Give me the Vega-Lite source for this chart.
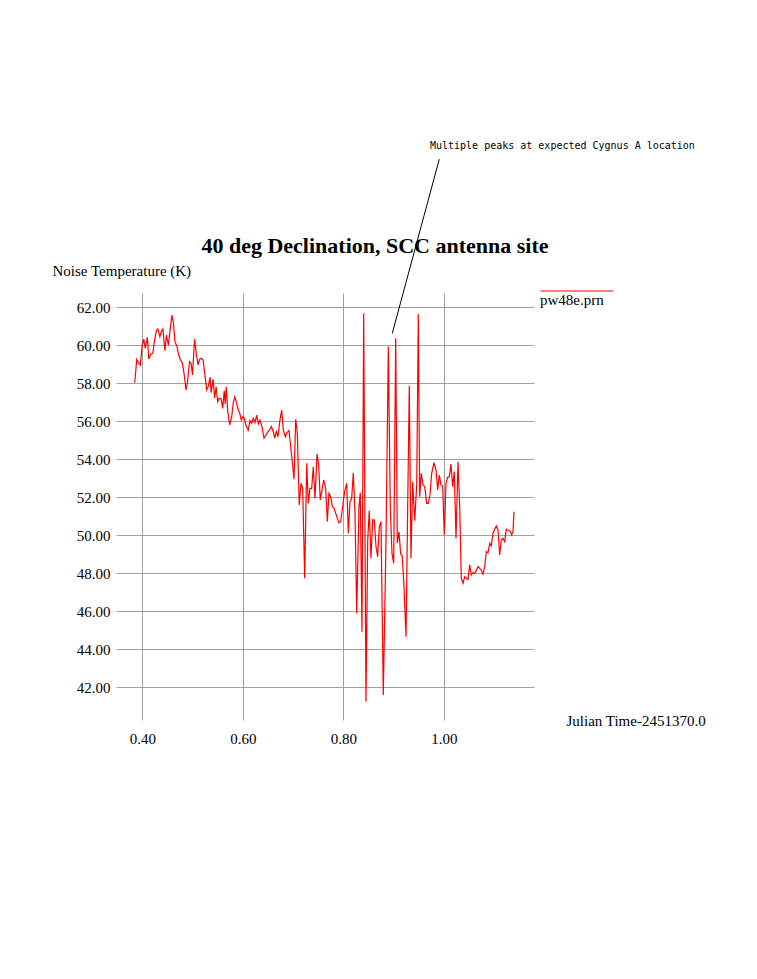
{
  "$schema": "https://vega.github.io/schema/vega-lite/v6.json",
  "width": 418,
  "height": 427,
  "autosize": {"type": "none"},
  "padding": {"left": 116, "top": 293, "right": 223, "bottom": 259},
  "background": "white",
  "title": {
    "text": "40 deg Declination, SCC antenna site",
    "font": "Liberation Serif",
    "fontSize": 22,
    "fontWeight": "bold",
    "color": "black",
    "anchor": "middle",
    "frame": "group",
    "baseline": "alphabetic",
    "offset": -134,
    "dx": 50
  },
  "config": {
    "view": {"stroke": null},
    "axis": {
      "gridColor": "#a0a0a0",
      "gridWidth": 1,
      "gridOpacity": 1,
      "domain": false,
      "ticks": false,
      "labelFont": "Liberation Serif",
      "labelFontSize": 15,
      "labelColor": "black",
      "titleFont": "Liberation Serif",
      "titleFontSize": 15,
      "titleFontWeight": "normal",
      "titleColor": "black"
    }
  },
  "layer": [
    {
      "data": {
        "values": [
          {"t": 0.385, "temp": 58.03, "file": "pw48e.prn"},
          {"t": 0.389, "temp": 59.26, "file": "pw48e.prn"},
          {"t": 0.393, "temp": 59.05, "file": "pw48e.prn"},
          {"t": 0.396, "temp": 58.96, "file": "pw48e.prn"},
          {"t": 0.400, "temp": 60.02, "file": "pw48e.prn"},
          {"t": 0.403, "temp": 60.32, "file": "pw48e.prn"},
          {"t": 0.406, "temp": 59.84, "file": "pw48e.prn"},
          {"t": 0.410, "temp": 60.42, "file": "pw48e.prn"},
          {"t": 0.413, "temp": 59.28, "file": "pw48e.prn"},
          {"t": 0.417, "temp": 59.54, "file": "pw48e.prn"},
          {"t": 0.421, "temp": 59.58, "file": "pw48e.prn"},
          {"t": 0.424, "temp": 60.19, "file": "pw48e.prn"},
          {"t": 0.428, "temp": 60.77, "file": "pw48e.prn"},
          {"t": 0.431, "temp": 60.86, "file": "pw48e.prn"},
          {"t": 0.435, "temp": 60.45, "file": "pw48e.prn"},
          {"t": 0.438, "temp": 60.72, "file": "pw48e.prn"},
          {"t": 0.441, "temp": 60.86, "file": "pw48e.prn"},
          {"t": 0.445, "temp": 59.72, "file": "pw48e.prn"},
          {"t": 0.448, "temp": 60.54, "file": "pw48e.prn"},
          {"t": 0.452, "temp": 60.02, "file": "pw48e.prn"},
          {"t": 0.455, "temp": 60.72, "file": "pw48e.prn"},
          {"t": 0.459, "temp": 61.59, "file": "pw48e.prn"},
          {"t": 0.462, "temp": 61.19, "file": "pw48e.prn"},
          {"t": 0.465, "temp": 60.19, "file": "pw48e.prn"},
          {"t": 0.469, "temp": 59.93, "file": "pw48e.prn"},
          {"t": 0.472, "temp": 59.54, "file": "pw48e.prn"},
          {"t": 0.476, "temp": 59.23, "file": "pw48e.prn"},
          {"t": 0.480, "temp": 59.05, "file": "pw48e.prn"},
          {"t": 0.484, "temp": 58.35, "file": "pw48e.prn"},
          {"t": 0.487, "temp": 57.65, "file": "pw48e.prn"},
          {"t": 0.490, "temp": 58.08, "file": "pw48e.prn"},
          {"t": 0.494, "temp": 59.14, "file": "pw48e.prn"},
          {"t": 0.497, "temp": 59.05, "file": "pw48e.prn"},
          {"t": 0.500, "temp": 58.44, "file": "pw48e.prn"},
          {"t": 0.504, "temp": 60.32, "file": "pw48e.prn"},
          {"t": 0.507, "temp": 59.67, "file": "pw48e.prn"},
          {"t": 0.511, "temp": 58.96, "file": "pw48e.prn"},
          {"t": 0.514, "temp": 59.26, "file": "pw48e.prn"},
          {"t": 0.517, "temp": 59.32, "file": "pw48e.prn"},
          {"t": 0.521, "temp": 59.23, "file": "pw48e.prn"},
          {"t": 0.525, "temp": 58.35, "file": "pw48e.prn"},
          {"t": 0.528, "temp": 57.65, "file": "pw48e.prn"},
          {"t": 0.531, "temp": 57.82, "file": "pw48e.prn"},
          {"t": 0.535, "temp": 58.32, "file": "pw48e.prn"},
          {"t": 0.537, "temp": 57.51, "file": "pw48e.prn"},
          {"t": 0.541, "temp": 58.21, "file": "pw48e.prn"},
          {"t": 0.544, "temp": 57.21, "file": "pw48e.prn"},
          {"t": 0.547, "temp": 57.82, "file": "pw48e.prn"},
          {"t": 0.550, "temp": 57.03, "file": "pw48e.prn"},
          {"t": 0.553, "temp": 57.21, "file": "pw48e.prn"},
          {"t": 0.557, "temp": 57.17, "file": "pw48e.prn"},
          {"t": 0.560, "temp": 56.68, "file": "pw48e.prn"},
          {"t": 0.563, "temp": 57.61, "file": "pw48e.prn"},
          {"t": 0.565, "temp": 56.91, "file": "pw48e.prn"},
          {"t": 0.567, "temp": 57.82, "file": "pw48e.prn"},
          {"t": 0.570, "temp": 56.51, "file": "pw48e.prn"},
          {"t": 0.574, "temp": 55.81, "file": "pw48e.prn"},
          {"t": 0.578, "temp": 56.24, "file": "pw48e.prn"},
          {"t": 0.581, "temp": 56.95, "file": "pw48e.prn"},
          {"t": 0.584, "temp": 57.29, "file": "pw48e.prn"},
          {"t": 0.587, "temp": 57.03, "file": "pw48e.prn"},
          {"t": 0.590, "temp": 56.68, "file": "pw48e.prn"},
          {"t": 0.594, "temp": 56.42, "file": "pw48e.prn"},
          {"t": 0.597, "temp": 56.07, "file": "pw48e.prn"},
          {"t": 0.600, "temp": 56.24, "file": "pw48e.prn"},
          {"t": 0.603, "temp": 56.16, "file": "pw48e.prn"},
          {"t": 0.606, "temp": 55.81, "file": "pw48e.prn"},
          {"t": 0.6109, "temp": 55.54, "file": "pw48e.prn"},
          {"t": 0.6143, "temp": 56.03, "file": "pw48e.prn"},
          {"t": 0.6177, "temp": 55.89, "file": "pw48e.prn"},
          {"t": 0.6209, "temp": 56.16, "file": "pw48e.prn"},
          {"t": 0.6243, "temp": 55.93, "file": "pw48e.prn"},
          {"t": 0.6277, "temp": 56.32, "file": "pw48e.prn"},
          {"t": 0.6308, "temp": 55.86, "file": "pw48e.prn"},
          {"t": 0.6342, "temp": 56.07, "file": "pw48e.prn"},
          {"t": 0.6382, "temp": 55.72, "file": "pw48e.prn"},
          {"t": 0.6422, "temp": 55.11, "file": "pw48e.prn"},
          {"t": 0.6462, "temp": 55.28, "file": "pw48e.prn"},
          {"t": 0.6502, "temp": 55.45, "file": "pw48e.prn"},
          {"t": 0.6542, "temp": 55.58, "file": "pw48e.prn"},
          {"t": 0.6567, "temp": 55.72, "file": "pw48e.prn"},
          {"t": 0.6607, "temp": 55.45, "file": "pw48e.prn"},
          {"t": 0.6635, "temp": 55.11, "file": "pw48e.prn"},
          {"t": 0.6667, "temp": 55.45, "file": "pw48e.prn"},
          {"t": 0.6701, "temp": 55.19, "file": "pw48e.prn"},
          {"t": 0.6740, "temp": 56.07, "file": "pw48e.prn"},
          {"t": 0.6774, "temp": 56.59, "file": "pw48e.prn"},
          {"t": 0.6806, "temp": 55.54, "file": "pw48e.prn"},
          {"t": 0.6846, "temp": 55.19, "file": "pw48e.prn"},
          {"t": 0.6880, "temp": 55.40, "file": "pw48e.prn"},
          {"t": 0.6919, "temp": 55.51, "file": "pw48e.prn"},
          {"t": 0.6953, "temp": 54.66, "file": "pw48e.prn"},
          {"t": 0.6985, "temp": 53.87, "file": "pw48e.prn"},
          {"t": 0.7019, "temp": 52.95, "file": "pw48e.prn"},
          {"t": 0.7053, "temp": 56.11, "file": "pw48e.prn"},
          {"t": 0.7085, "temp": 55.37, "file": "pw48e.prn"},
          {"t": 0.7124, "temp": 51.59, "file": "pw48e.prn"},
          {"t": 0.7158, "temp": 52.74, "file": "pw48e.prn"},
          {"t": 0.7192, "temp": 52.47, "file": "pw48e.prn"},
          {"t": 0.7232, "temp": 47.74, "file": "pw48e.prn"},
          {"t": 0.7272, "temp": 53.79, "file": "pw48e.prn"},
          {"t": 0.7303, "temp": 51.68, "file": "pw48e.prn"},
          {"t": 0.7337, "temp": 52.47, "file": "pw48e.prn"},
          {"t": 0.7371, "temp": 52.47, "file": "pw48e.prn"},
          {"t": 0.7403, "temp": 53.61, "file": "pw48e.prn"},
          {"t": 0.7437, "temp": 51.95, "file": "pw48e.prn"},
          {"t": 0.7477, "temp": 54.28, "file": "pw48e.prn"},
          {"t": 0.7510, "temp": 53.70, "file": "pw48e.prn"},
          {"t": 0.7542, "temp": 51.86, "file": "pw48e.prn"},
          {"t": 0.7576, "temp": 52.38, "file": "pw48e.prn"},
          {"t": 0.7610, "temp": 52.91, "file": "pw48e.prn"},
          {"t": 0.7650, "temp": 52.47, "file": "pw48e.prn"},
          {"t": 0.7682, "temp": 50.72, "file": "pw48e.prn"},
          {"t": 0.7715, "temp": 52.21, "file": "pw48e.prn"},
          {"t": 0.7749, "temp": 52.03, "file": "pw48e.prn"},
          {"t": 0.7781, "temp": 51.51, "file": "pw48e.prn"},
          {"t": 0.7815, "temp": 51.42, "file": "pw48e.prn"},
          {"t": 0.7849, "temp": 51.16, "file": "pw48e.prn"},
          {"t": 0.7881, "temp": 50.89, "file": "pw48e.prn"},
          {"t": 0.7914, "temp": 50.66, "file": "pw48e.prn"},
          {"t": 0.7948, "temp": 50.72, "file": "pw48e.prn"},
          {"t": 0.7980, "temp": 51.33, "file": "pw48e.prn"},
          {"t": 0.8008, "temp": 51.95, "file": "pw48e.prn"},
          {"t": 0.8034, "temp": 52.38, "file": "pw48e.prn"},
          {"t": 0.8068, "temp": 52.74, "file": "pw48e.prn"},
          {"t": 0.8100, "temp": 50.11, "file": "pw48e.prn"},
          {"t": 0.8133, "temp": 51.77, "file": "pw48e.prn"},
          {"t": 0.8167, "temp": 51.95, "file": "pw48e.prn"},
          {"t": 0.8199, "temp": 53.29, "file": "pw48e.prn"},
          {"t": 0.8233, "temp": 51.16, "file": "pw48e.prn"},
          {"t": 0.8267, "temp": 45.89, "file": "pw48e.prn"},
          {"t": 0.8312, "temp": 51.51, "file": "pw48e.prn"},
          {"t": 0.8338, "temp": 52.24, "file": "pw48e.prn"},
          {"t": 0.8372, "temp": 44.93, "file": "pw48e.prn"},
          {"t": 0.8406, "temp": 61.68, "file": "pw48e.prn"},
          {"t": 0.8452, "temp": 41.24, "file": "pw48e.prn"},
          {"t": 0.8486, "temp": 49.75, "file": "pw48e.prn"},
          {"t": 0.8517, "temp": 51.29, "file": "pw48e.prn"},
          {"t": 0.8551, "temp": 48.79, "file": "pw48e.prn"},
          {"t": 0.8585, "temp": 50.81, "file": "pw48e.prn"},
          {"t": 0.8617, "temp": 50.81, "file": "pw48e.prn"},
          {"t": 0.8651, "temp": 49.40, "file": "pw48e.prn"},
          {"t": 0.8684, "temp": 48.87, "file": "pw48e.prn"},
          {"t": 0.8716, "temp": 50.45, "file": "pw48e.prn"},
          {"t": 0.8750, "temp": 50.72, "file": "pw48e.prn"},
          {"t": 0.8796, "temp": 41.59, "file": "pw48e.prn"},
          {"t": 0.8850, "temp": 49.75, "file": "pw48e.prn"},
          {"t": 0.8896, "temp": 59.93, "file": "pw48e.prn"},
          {"t": 0.8935, "temp": 51.51, "file": "pw48e.prn"},
          {"t": 0.8969, "temp": 49.05, "file": "pw48e.prn"},
          {"t": 0.9003, "temp": 48.53, "file": "pw48e.prn"},
          {"t": 0.9043, "temp": 60.37, "file": "pw48e.prn"},
          {"t": 0.9075, "temp": 49.58, "file": "pw48e.prn"},
          {"t": 0.9108, "temp": 50.19, "file": "pw48e.prn"},
          {"t": 0.9142, "temp": 49.02, "file": "pw48e.prn"},
          {"t": 0.9174, "temp": 48.91, "file": "pw48e.prn"},
          {"t": 0.9208, "temp": 47.29, "file": "pw48e.prn"},
          {"t": 0.9248, "temp": 44.66, "file": "pw48e.prn"},
          {"t": 0.9313, "temp": 57.86, "file": "pw48e.prn"},
          {"t": 0.9347, "temp": 48.79, "file": "pw48e.prn"},
          {"t": 0.9381, "temp": 52.82, "file": "pw48e.prn"},
          {"t": 0.9421, "temp": 50.77, "file": "pw48e.prn"},
          {"t": 0.9461, "temp": 52.65, "file": "pw48e.prn"},
          {"t": 0.9493, "temp": 61.65, "file": "pw48e.prn"},
          {"t": 0.9520, "temp": 52.03, "file": "pw48e.prn"},
          {"t": 0.9552, "temp": 53.26, "file": "pw48e.prn"},
          {"t": 0.9586, "temp": 52.65, "file": "pw48e.prn"},
          {"t": 0.9620, "temp": 52.56, "file": "pw48e.prn"},
          {"t": 0.9660, "temp": 51.68, "file": "pw48e.prn"},
          {"t": 0.9692, "temp": 51.68, "file": "pw48e.prn"},
          {"t": 0.9725, "temp": 52.12, "file": "pw48e.prn"},
          {"t": 0.9759, "temp": 53.26, "file": "pw48e.prn"},
          {"t": 0.9805, "temp": 53.82, "file": "pw48e.prn"},
          {"t": 0.9845, "temp": 53.44, "file": "pw48e.prn"},
          {"t": 0.9879, "temp": 52.38, "file": "pw48e.prn"},
          {"t": 0.9910, "temp": 53.17, "file": "pw48e.prn"},
          {"t": 0.9944, "temp": 52.65, "file": "pw48e.prn"},
          {"t": 0.9978, "temp": 52.59, "file": "pw48e.prn"},
          {"t": 1.0010, "temp": 50.02, "file": "pw48e.prn"},
          {"t": 1.0044, "temp": 52.74, "file": "pw48e.prn"},
          {"t": 1.0078, "temp": 53.05, "file": "pw48e.prn"},
          {"t": 1.0110, "temp": 53.08, "file": "pw48e.prn"},
          {"t": 1.0143, "temp": 53.75, "file": "pw48e.prn"},
          {"t": 1.0177, "temp": 52.56, "file": "pw48e.prn"},
          {"t": 1.0209, "temp": 53.35, "file": "pw48e.prn"},
          {"t": 1.0243, "temp": 49.84, "file": "pw48e.prn"},
          {"t": 1.0283, "temp": 53.87, "file": "pw48e.prn"},
          {"t": 1.0316, "temp": 51.51, "file": "pw48e.prn"},
          {"t": 1.0348, "temp": 47.74, "file": "pw48e.prn"},
          {"t": 1.0382, "temp": 47.47, "file": "pw48e.prn"},
          {"t": 1.0416, "temp": 47.82, "file": "pw48e.prn"},
          {"t": 1.0448, "temp": 47.74, "file": "pw48e.prn"},
          {"t": 1.0482, "temp": 47.68, "file": "pw48e.prn"},
          {"t": 1.0515, "temp": 48.44, "file": "pw48e.prn"},
          {"t": 1.0547, "temp": 47.91, "file": "pw48e.prn"},
          {"t": 1.0581, "temp": 48.03, "file": "pw48e.prn"},
          {"t": 1.0615, "temp": 48.00, "file": "pw48e.prn"},
          {"t": 1.0647, "temp": 48.14, "file": "pw48e.prn"},
          {"t": 1.0681, "temp": 48.35, "file": "pw48e.prn"},
          {"t": 1.0714, "temp": 48.26, "file": "pw48e.prn"},
          {"t": 1.0746, "temp": 48.17, "file": "pw48e.prn"},
          {"t": 1.0780, "temp": 47.96, "file": "pw48e.prn"},
          {"t": 1.0814, "temp": 48.35, "file": "pw48e.prn"},
          {"t": 1.0846, "temp": 49.14, "file": "pw48e.prn"},
          {"t": 1.0880, "temp": 49.08, "file": "pw48e.prn"},
          {"t": 1.0914, "temp": 49.58, "file": "pw48e.prn"},
          {"t": 1.0945, "temp": 49.44, "file": "pw48e.prn"},
          {"t": 1.0979, "temp": 50.11, "file": "pw48e.prn"},
          {"t": 1.1013, "temp": 50.32, "file": "pw48e.prn"},
          {"t": 1.1045, "temp": 50.49, "file": "pw48e.prn"},
          {"t": 1.1079, "temp": 50.28, "file": "pw48e.prn"},
          {"t": 1.1112, "temp": 48.96, "file": "pw48e.prn"},
          {"t": 1.1144, "temp": 49.75, "file": "pw48e.prn"},
          {"t": 1.1178, "temp": 49.84, "file": "pw48e.prn"},
          {"t": 1.1212, "temp": 49.66, "file": "pw48e.prn"},
          {"t": 1.1244, "temp": 50.32, "file": "pw48e.prn"},
          {"t": 1.1278, "temp": 50.24, "file": "pw48e.prn"},
          {"t": 1.1318, "temp": 50.24, "file": "pw48e.prn"},
          {"t": 1.1351, "temp": 50.02, "file": "pw48e.prn"},
          {"t": 1.1377, "temp": 50.19, "file": "pw48e.prn"},
          {"t": 1.1397, "temp": 51.24, "file": "pw48e.prn"}
        ]
      },
      "mark": {"type": "line", "strokeWidth": 1.2, "clip": true},
      "encoding": {
        "x": {
          "field": "t",
          "type": "quantitative",
          "scale": {"domain": [0.3477, 1.1795], "nice": false, "zero": false},
          "axis": {
            "values": [0.4, 0.6, 0.8, 1.0],
            "format": ".2f",
            "labelPadding": 11,
            "title": "Julian Time-2451370.0",
            "titleAlign": "left",
            "titleBaseline": "alphabetic",
            "titleAnchor": "start",
            "titleX": 450,
            "titleY": 5
          }
        },
        "y": {
          "field": "temp",
          "type": "quantitative",
          "scale": {"domain": [40.28, 62.75], "nice": false, "zero": false},
          "axis": {
            "values": [42, 44, 46, 48, 50, 52, 54, 56, 58, 60, 62],
            "format": ".2f",
            "labelPadding": 6,
            "title": "Noise Temperature (K)",
            "titleAngle": 0,
            "titleAlign": "left",
            "titleBaseline": "alphabetic",
            "titleAnchor": "start",
            "titleX": -64,
            "titleY": -18
          }
        },
        "color": {
          "field": "file",
          "type": "nominal",
          "scale": {"range": ["#ff0000"]},
          "legend": {
            "orient": "none",
            "legendX": 424,
            "legendY": -39,
            "padding": 0,
            "title": null,
            "symbolType": "stroke",
            "symbolSize": 5329,
            "symbolStrokeWidth": 1,
            "labelFont": "Liberation Serif",
            "labelFontSize": 15,
            "labelColor": "black",
            "labelOffset": -74,
            "labelBaseline": "top",
            "encode": {"labels": {"update": {"dy": {"value": 2}}}}
          }
        }
      }
    },
    {
      "data": {"values": [{"x1": 0.991, "y1": 69.79, "x2": 0.8975, "y2": 60.63}]},
      "mark": {"type": "rule", "color": "black", "strokeWidth": 1, "clip": false},
      "encoding": {
        "x": {"field": "x1", "type": "quantitative"},
        "y": {"field": "y1", "type": "quantitative"},
        "x2": {"field": "x2"},
        "y2": {"field": "y2"}
      }
    },
    {
      "data": {"values": [{"x": 0.9725, "y": 70.32, "note": "Multiple peaks at expected Cygnus A location"}]},
      "mark": {"type": "text", "font": "DejaVu Sans Mono", "fontSize": 10, "align": "left", "baseline": "alphabetic", "color": "black", "clip": false},
      "encoding": {
        "x": {"field": "x", "type": "quantitative"},
        "y": {"field": "y", "type": "quantitative"},
        "text": {"field": "note"}
      }
    }
  ]
}
